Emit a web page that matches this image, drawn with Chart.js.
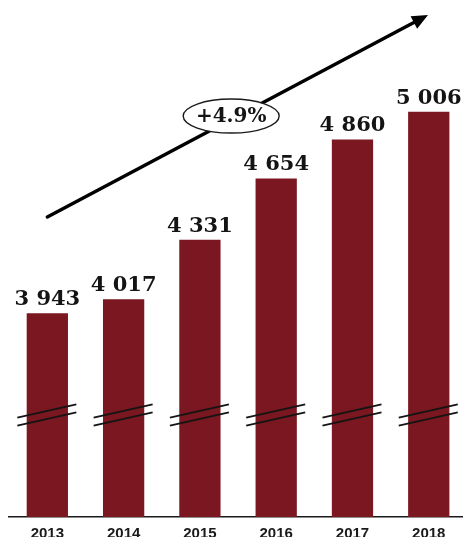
<!DOCTYPE html>
<html>
<head>
<meta charset="utf-8">
<style>
  html, body { margin: 0; padding: 0; background: #ffffff; overflow: hidden; width: 463px; height: 537px; }
  #wrap { position: relative; width: 470px; height: 537px; }
  canvas { display: block; }
</style>
<script src="https://cdn.jsdelivr.net/npm/chart.js@4/dist/chart.umd.min.js"></script>
</head>
<body>
<div id="wrap"><canvas id="chart" width="470" height="537"></canvas></div>
<script>
// Yearly totals
const years = ['2013', '2014', '2015', '2016', '2017', '2018'];
const values = [3943, 4017, 4331, 4654, 4860, 5006];

// Average annual growth shown on the trend arrow
const growthLabel = '+4.9%';

// Visible value window (axis is broken, bars start well above zero)
const axisMin = 2869;
const axisMax = 5595;

const barColor = '#7a1720';
const inkColor = '#141414';

function formatThousands(v) {
  return String(v).replace(/\B(?=(\d{3})+(?!\d))/g, ' ');
}

// Value labels above each bar
const valueLabels = {
  id: 'valueLabels',
  afterDatasetsDraw(chart) {
    const ctx = chart.ctx;
    const meta = chart.getDatasetMeta(0);
    ctx.save();
    ctx.fillStyle = inkColor;
    ctx.font = 'bold 21px "DejaVu Serif", serif';
    ctx.textAlign = 'center';
    ctx.textBaseline = 'alphabetic';
    meta.data.forEach((bar, i) => {
      ctx.fillText(formatThousands(chart.data.datasets[0].data[i]), bar.x, bar.y - 8);
    });
    ctx.restore();
  }
};

// Double slash "axis break" marks across each bar
const breakMarks = {
  id: 'breakMarks',
  afterDatasetsDraw(chart) {
    const ctx = chart.ctx;
    const yScale = chart.scales.y;
    const meta = chart.getDatasetMeta(0);
    const midY = yScale.getPixelForValue(3407);
    ctx.save();
    ctx.strokeStyle = inkColor;
    ctx.lineWidth = 1.8;
    meta.data.forEach((bar) => {
      [-4, 4].forEach((off) => {
        ctx.beginPath();
        ctx.moveTo(bar.x - 30, midY + off + 6.7);
        ctx.lineTo(bar.x + 29, midY + off - 6.7);
        ctx.stroke();
      });
    });
    ctx.restore();
  }
};

// Growth arrow with the ellipse badge
const growthArrow = {
  id: 'growthArrow',
  afterDatasetsDraw(chart) {
    const ctx = chart.ctx;
    const xs = chart.scales.x, ys = chart.scales.y;
    const x0 = xs.getPixelForValue(0), y0 = ys.getPixelForValue(4451);
    const x1 = xs.getPixelForValue(4.99), y1 = ys.getPixelForValue(5516);
    const ang = Math.atan2(y1 - y0, x1 - x0);
    const headLen = 16, headHalf = 7;
    ctx.save();
    ctx.strokeStyle = '#000';
    ctx.fillStyle = '#000';
    ctx.lineWidth = 3.5;
    ctx.lineCap = 'round';
    ctx.beginPath();
    ctx.moveTo(x0, y0);
    ctx.lineTo(x1 - Math.cos(ang) * headLen * 0.8, y1 - Math.sin(ang) * headLen * 0.8);
    ctx.stroke();
    ctx.beginPath();
    ctx.moveTo(x1, y1);
    ctx.lineTo(x1 - Math.cos(ang) * headLen + Math.sin(ang) * headHalf,
               y1 - Math.sin(ang) * headLen - Math.cos(ang) * headHalf);
    ctx.lineTo(x1 - Math.cos(ang) * headLen - Math.sin(ang) * headHalf,
               y1 - Math.sin(ang) * headLen + Math.cos(ang) * headHalf);
    ctx.closePath();
    ctx.fill();

    const cx = xs.getPixelForValue(2.41), cy = ys.getPixelForValue(4983);
    ctx.beginPath();
    ctx.ellipse(cx, cy, 48, 17, 0, 0, Math.PI * 2);
    ctx.fillStyle = '#ffffff';
    ctx.fill();
    ctx.lineWidth = 1.4;
    ctx.strokeStyle = '#1a1a1a';
    ctx.stroke();
    ctx.fillStyle = inkColor;
    ctx.font = 'bold 20px "DejaVu Serif", serif';
    ctx.textAlign = 'center';
    ctx.textBaseline = 'middle';
    ctx.fillText(growthLabel, cx, cy + 1);
    ctx.restore();
  }
};

new Chart(document.getElementById('chart'), {
  type: 'bar',
  data: {
    labels: years,
    datasets: [{
      data: values,
      backgroundColor: barColor,
      borderWidth: 0,
      categoryPercentage: 1,
      barPercentage: 0.541
    }]
  },
  options: {
    responsive: false,
    animation: false,
    devicePixelRatio: 1,
    layout: { padding: { left: 9.2, right: 3.1, top: 0, bottom: 0 } },
    plugins: { legend: { display: false }, tooltip: { enabled: false }, title: { display: false } },
    scales: {
      x: {
        grid: { display: false, drawTicks: false },
        border: { display: true, color: '#1a1a1a', width: 1.6 },
        ticks: {
          color: '#1a1a1a',
          font: { family: '"Liberation Sans", Arial, sans-serif', size: 15, weight: 'bold' },
          padding: 8,
          maxRotation: 0
        },
        afterFit(scale) { scale.height = 20; }
      },
      y: {
        display: false,
        min: axisMin,
        max: axisMax
      }
    }
  },
  plugins: [breakMarks, valueLabels, growthArrow]
});
</script>
</body>
</html>
